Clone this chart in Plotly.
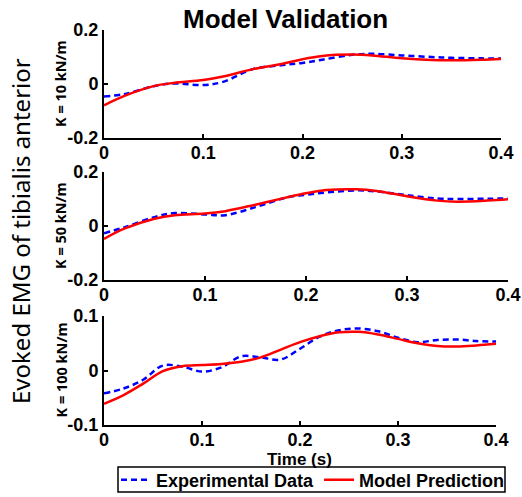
import plotly.graph_objects as go

# ---- data ----
t_k10 = [0, 0.02, 0.05, 0.07, 0.1, 0.12, 0.15, 0.18, 0.2, 0.22, 0.25, 0.27, 0.3, 0.33, 0.35, 0.38, 0.4]
exp_k10 = [-0.046, -0.038, -0.008, 0.002, -0.004, 0.008, 0.055, 0.07, 0.078, 0.09, 0.108, 0.112, 0.106, 0.1, 0.097, 0.095, 0.094]
mod_k10 = [-0.079, -0.045, -0.008, 0.004, 0.015, 0.028, 0.055, 0.075, 0.092, 0.104, 0.109, 0.106, 0.095, 0.089, 0.088, 0.09, 0.093]

t_k50 = [0, 0.02, 0.05, 0.07, 0.1, 0.12, 0.15, 0.18, 0.2, 0.22, 0.25, 0.27, 0.3, 0.33, 0.35, 0.38, 0.4]
exp_k50 = [-0.027, -0.005, 0.033, 0.048, 0.043, 0.04, 0.07, 0.105, 0.116, 0.124, 0.132, 0.128, 0.114, 0.102, 0.1, 0.101, 0.102]
mod_k50 = [-0.048, -0.01, 0.027, 0.04, 0.046, 0.055, 0.079, 0.105, 0.121, 0.133, 0.136, 0.13, 0.11, 0.094, 0.09, 0.094, 0.099]

t_k100 = [0, 0.02, 0.04, 0.06, 0.08, 0.1, 0.12, 0.14, 0.16, 0.18, 0.2, 0.22, 0.24, 0.26, 0.28, 0.3, 0.32, 0.34, 0.36, 0.38, 0.4]
exp_k100 = [-0.042, -0.033, -0.017, 0.009, 0.007, -0.002, 0.006, 0.026, 0.024, 0.02, 0.04, 0.062, 0.074, 0.077, 0.072, 0.06, 0.052, 0.056, 0.057, 0.054, 0.053]
mod_k100 = [-0.061, -0.045, -0.024, -0.001, 0.008, 0.010, 0.012, 0.016, 0.024, 0.038, 0.052, 0.063, 0.07, 0.071, 0.066, 0.058, 0.05, 0.045, 0.044, 0.046, 0.049]

panel_labels = ["K = 10 kN/m", "K = 50 kN/m", "K = 100 kN/m"]
y_ranges = [[-0.2, 0.2], [-0.2, 0.2], [-0.1, 0.1]]
y_ticks = [[-0.2, 0, 0.2], [-0.2, 0, 0.2], [-0.1, 0, 0.1]]
y_ticktext = [["-0.2", "0", "0.2"], ["-0.2", "0", "0.2"], ["-0.1", "0", "0.1"]]
x_ticks = [0, 0.1, 0.2, 0.3, 0.4]
x_ticktext = ["0", "0.1", "0.2", "0.3", "0.4"]

W, H = 522, 497
# pixel layout of each panel: (left, right, top, bottom)
boxes = [(104, 501, 30, 138), (104, 508, 172, 280), (104, 496, 316, 425)]

FONT = "Liberation Sans, Arial, sans-serif"
fig = go.Figure()

series = [(t_k10, exp_k10, mod_k10), (t_k50, exp_k50, mod_k50), (t_k100, exp_k100, mod_k100)]
for i, (t, e, m) in enumerate(series):
    n = "" if i == 0 else str(i + 1)
    fig.add_trace(go.Scatter(x=t, y=e, mode="lines", line=dict(color="#0000ff", width=2.5, dash="6px,4px", shape="spline", smoothing=1.0),
                             name="Experimental Data", showlegend=(i == 0), xaxis="x" + n, yaxis="y" + n))
    fig.add_trace(go.Scatter(x=t, y=m, mode="lines", line=dict(color="#ff0000", width=2.5, shape="spline", smoothing=1.0),
                             name="Model Prediction", showlegend=(i == 0), xaxis="x" + n, yaxis="y" + n))

for i, (l, r, tp, b) in enumerate(boxes):
    n = "" if i == 0 else str(i + 1)
    common = dict(showline=True, linecolor="black", linewidth=2, ticks="inside", ticklen=4, tickwidth=1.5, tickcolor="black",
                  showgrid=False, zeroline=False, automargin=False,
                  tickfont=dict(family=FONT, size=18, color="black", weight="bold"))
    fig.layout["xaxis" + n] = dict(domain=[l / W, r / W], range=[0, 0.4], tickvals=x_ticks, ticktext=x_ticktext,
                                   anchor="y" + n, ticklabelstandoff=-3, **common)
    fig.layout["yaxis" + n] = dict(domain=[1 - b / H, 1 - tp / H], range=y_ranges[i], tickvals=y_ticks[i],
                                   ticktext=y_ticktext[i], anchor="x" + n, **common)
    fig.add_annotation(text="<b>" + panel_labels[i] + "</b>", xref="paper", yref="paper", x=60 / W, y=1 - (tp + b) / 2 / H,
                       xanchor="center", yanchor="middle",
                       textangle=-90, showarrow=False, font=dict(family="Noto Sans, sans-serif", size=14.5, color="black"))

fig.add_annotation(text="<b>Model Validation</b>", xref="paper", yref="paper", x=285 / W, y=1 - 19 / H,
                   xanchor="center", yanchor="middle",
                   showarrow=False, font=dict(family=FONT, size=26, color="black"))
fig.add_annotation(text="<b>Time (s)</b>", xref="paper", yref="paper", x=299 / W, y=1 - 459.5 / H,
                   xanchor="center", yanchor="middle",
                   showarrow=False, font=dict(family=FONT, size=17, color="black"))
fig.add_annotation(text="Evoked EMG of tibialis anterior", xref="paper", yref="paper", x=20 / W, y=1 - 231 / H,
                   xanchor="center", yanchor="middle",
                   textangle=-90, showarrow=False, font=dict(family="Noto Sans, sans-serif", size=24, color="black"))

# legend frame
fig.add_shape(type="rect", xref="paper", yref="paper", x0=118 / W, x1=505 / W, y0=1 - 492 / H, y1=1 - 467 / H,
              line=dict(color="black", width=1.5), fillcolor="rgba(0,0,0,0)", layer="above")

fig.update_layout(
    width=W, height=H, margin=dict(l=0, r=0, t=0, b=0, autoexpand=False),
    paper_bgcolor="white", plot_bgcolor="white",
    showlegend=True,
    legend=dict(orientation="h", x=116 / W, y=1 - 480 / H, xanchor="left", yanchor="middle",
                borderwidth=0, bgcolor="rgba(0,0,0,0)",
                font=dict(family=FONT, size=18, color="black", weight="bold"), itemwidth=30,
                tracegroupgap=0),
)

fig.write_html("out.html", config={"displayModeBar": False},
               post_script="document.body.style.margin='0';document.body.style.overflow='hidden';")
